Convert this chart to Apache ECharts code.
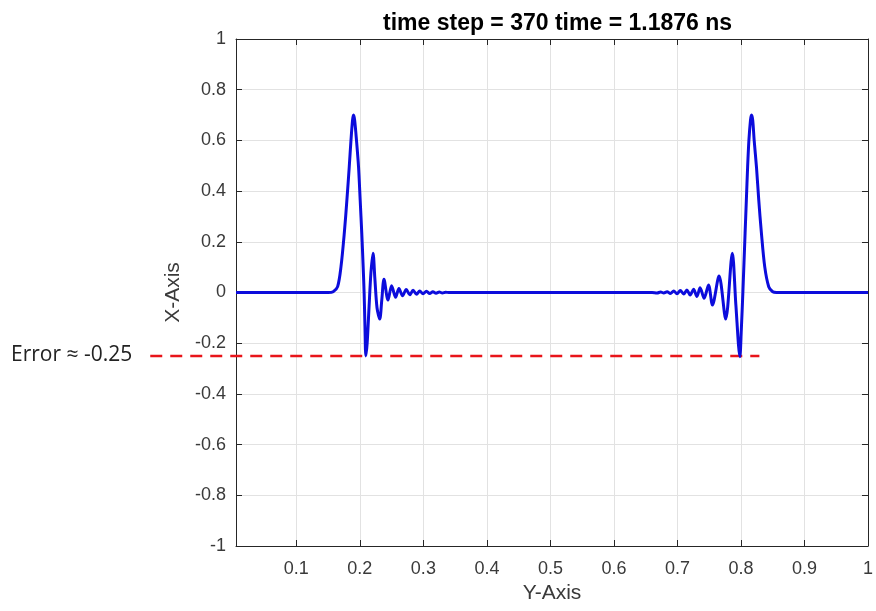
<!DOCTYPE html>
<html>
<head>
<meta charset="utf-8">
<title>time step = 370</title>
<script src="https://cdn.jsdelivr.net/npm/echarts@6/dist/echarts.min.js"></script>
<style>
html, body { margin: 0; padding: 0; background: #fff; }
#chart { width: 876px; height: 611px; }
</style>
</head>
<body>
<div id="chart"></div>
<script>
// pulse (x = position, y = amplitude)
const waveX = [
  0.005, 0.15, 0.158, 0.165, 0.1703, 0.1755, 0.1796, 0.1833, 0.186, 0.1885, 0.190, 0.1918, 0.1947, 0.1979,
  0.2005, 0.203, 0.2052, 0.2067, 0.208, 0.2094, 0.2115, 0.2145, 0.2175, 0.2208, 0.2235, 0.227, 0.2313,
  0.2345, 0.238, 0.2443, 0.25, 0.2563, 0.2615, 0.2672, 0.273, 0.2787, 0.2838, 0.2893, 0.2943, 0.2995,
  0.3048, 0.31, 0.315, 0.32, 0.325, 0.33, 0.335, 0.34,
  0.66, 0.668, 0.6735, 0.6785, 0.6837, 0.6889, 0.6941, 0.6993, 0.7045, 0.7098, 0.7149, 0.720, 0.7254,
  0.7306, 0.7357, 0.742, 0.7489, 0.7551, 0.7655, 0.776, 0.7864, 0.792, 0.7983, 0.8005, 0.803, 0.8065,
  0.8085, 0.8105, 0.8125, 0.815, 0.8166, 0.8185, 0.8208, 0.8244, 0.828, 0.8322, 0.8374, 0.8437, 0.85,
  0.856, 1.0
]
const waveY = [
  0, 0, 0.003, 0.023, 0.102, 0.234, 0.365, 0.496, 0.60, 0.68, 0.70, 0.68, 0.60, 0.496,
  0.365, 0.234, 0.102, 0.0, -0.13, -0.25, -0.20, -0.056, 0.08, 0.155, 0.06, -0.06, -0.105,
  -0.03, 0.052, -0.030, 0.027, -0.019, 0.016, -0.013, 0.012, -0.009, 0.009, -0.007, 0.006, -0.005,
  0.005, -0.004, 0.003, -0.003, 0.002, -0.002, 0.001, 0,
  0, -0.002, 0.002, -0.002, 0.003, -0.004, 0.006, -0.005, 0.008, -0.006, 0.01, -0.01, 0.013,
  -0.016, 0.019, -0.023, 0.03, -0.049, 0.065, -0.105, 0.155, -0.05, -0.253, -0.15, 0.0, 0.234,
  0.365, 0.496, 0.60, 0.68, 0.70, 0.68, 0.60, 0.496, 0.365, 0.234, 0.102, 0.023, 0.003,
  0, 0
]

// dashed error level, runs out past the left axis
const errorX = [-0.13, 0.829]
const errorY = [-0.25, -0.25]

const xMin = 0.005
const xMax = 1
const yMin = -1
const yMax = 1
const yStep = 0.2

const titleText = 'time step = 370 time = 1.1876 ns'
const errorText = 'Error \u2248 -0.25'

const font = 'Liberation Sans'
const axisColor = '#262626'
const labelColor = '#3a3a3a'
const gridColor = '#e2e2e2'

const zip = (xs, ys) => xs.map((x, i) => [x, ys[i]])

const chart = echarts.init(document.getElementById('chart'))

const frameAxis = {
  axisLine: { show: true, onZero: false, lineStyle: { color: axisColor, width: 1 } },
  axisTick: { show: true, inside: true, length: 6, lineStyle: { color: axisColor } },
  axisLabel: { show: false },
  splitLine: { show: false }
}

chart.setOption({
  animation: false,
  backgroundColor: '#fff',
  title: {
    text: titleText,
    left: 378,
    top: 7,
    textStyle: { fontFamily: font, fontSize: 23, fontWeight: 'bold', color: '#000' }
  },
  grid: { left: 236, right: 4, top: 39, bottom: 65 },
  xAxis: [
    {
      type: 'value',
      min: xMin,
      max: xMax,
      splitNumber: 10,
      name: 'Y-Axis',
      nameLocation: 'middle',
      nameGap: 34,
      nameTextStyle: { fontFamily: font, fontSize: 21, color: labelColor },
      axisLine: { show: true, onZero: false, lineStyle: { color: axisColor, width: 1 } },
      axisTick: { show: true, inside: true, length: 6, lineStyle: { color: axisColor } },
      axisLabel: {
        fontFamily: font,
        fontSize: 18,
        color: labelColor,
        margin: 14,
        formatter: (v) => (v < 0.05 ? '' : String(+v.toFixed(1)))
      },
      splitLine: { show: true, lineStyle: { color: gridColor, width: 1 } }
    },
    Object.assign({ type: 'value', position: 'top', min: xMin, max: xMax, splitNumber: 10 }, frameAxis)
  ],
  yAxis: [
    {
      type: 'value',
      min: yMin,
      max: yMax,
      interval: yStep,
      name: 'X-Axis',
      nameLocation: 'middle',
      nameGap: 48,
      nameTextStyle: { fontFamily: font, fontSize: 21, color: labelColor },
      axisLine: { show: true, onZero: false, lineStyle: { color: axisColor, width: 1 } },
      axisTick: { show: true, inside: true, length: 6, lineStyle: { color: axisColor } },
      axisLabel: { fontFamily: font, fontSize: 18, color: labelColor, margin: 10 },
      splitLine: { show: true, lineStyle: { color: gridColor, width: 1 } }
    },
    Object.assign({ type: 'value', position: 'right', min: yMin, max: yMax, interval: yStep }, frameAxis)
  ],
  series: [
    {
      name: 'pulse',
      type: 'line',
      data: zip(waveX, waveY),
      symbol: 'none',
      smooth: 0.3,
      z: 3,
      lineStyle: { color: '#0c0cdc', width: 3 }
    }
  ]
})

// the error line leaves the plot on the left, so place it through the axes' own scale
const p0 = chart.convertToPixel({ gridIndex: 0 }, [errorX[0], errorY[0]])
const p1 = chart.convertToPixel({ gridIndex: 0 }, [errorX[1], errorY[1]])

chart.setOption({
  graphic: [
    {
      type: 'line',
      z: 1,
      shape: { x1: p0[0], y1: p0[1], x2: p1[0], y2: p1[1] },
      style: { stroke: '#e8141a', lineWidth: 2.5, lineDash: [12, 8] }
    },
    {
      type: 'text',
      left: 11,
      top: 345,
      style: { text: errorText, font: '21px "Open Sans"', fill: '#222' }
    }
  ]
})
</script>
</body>
</html>
